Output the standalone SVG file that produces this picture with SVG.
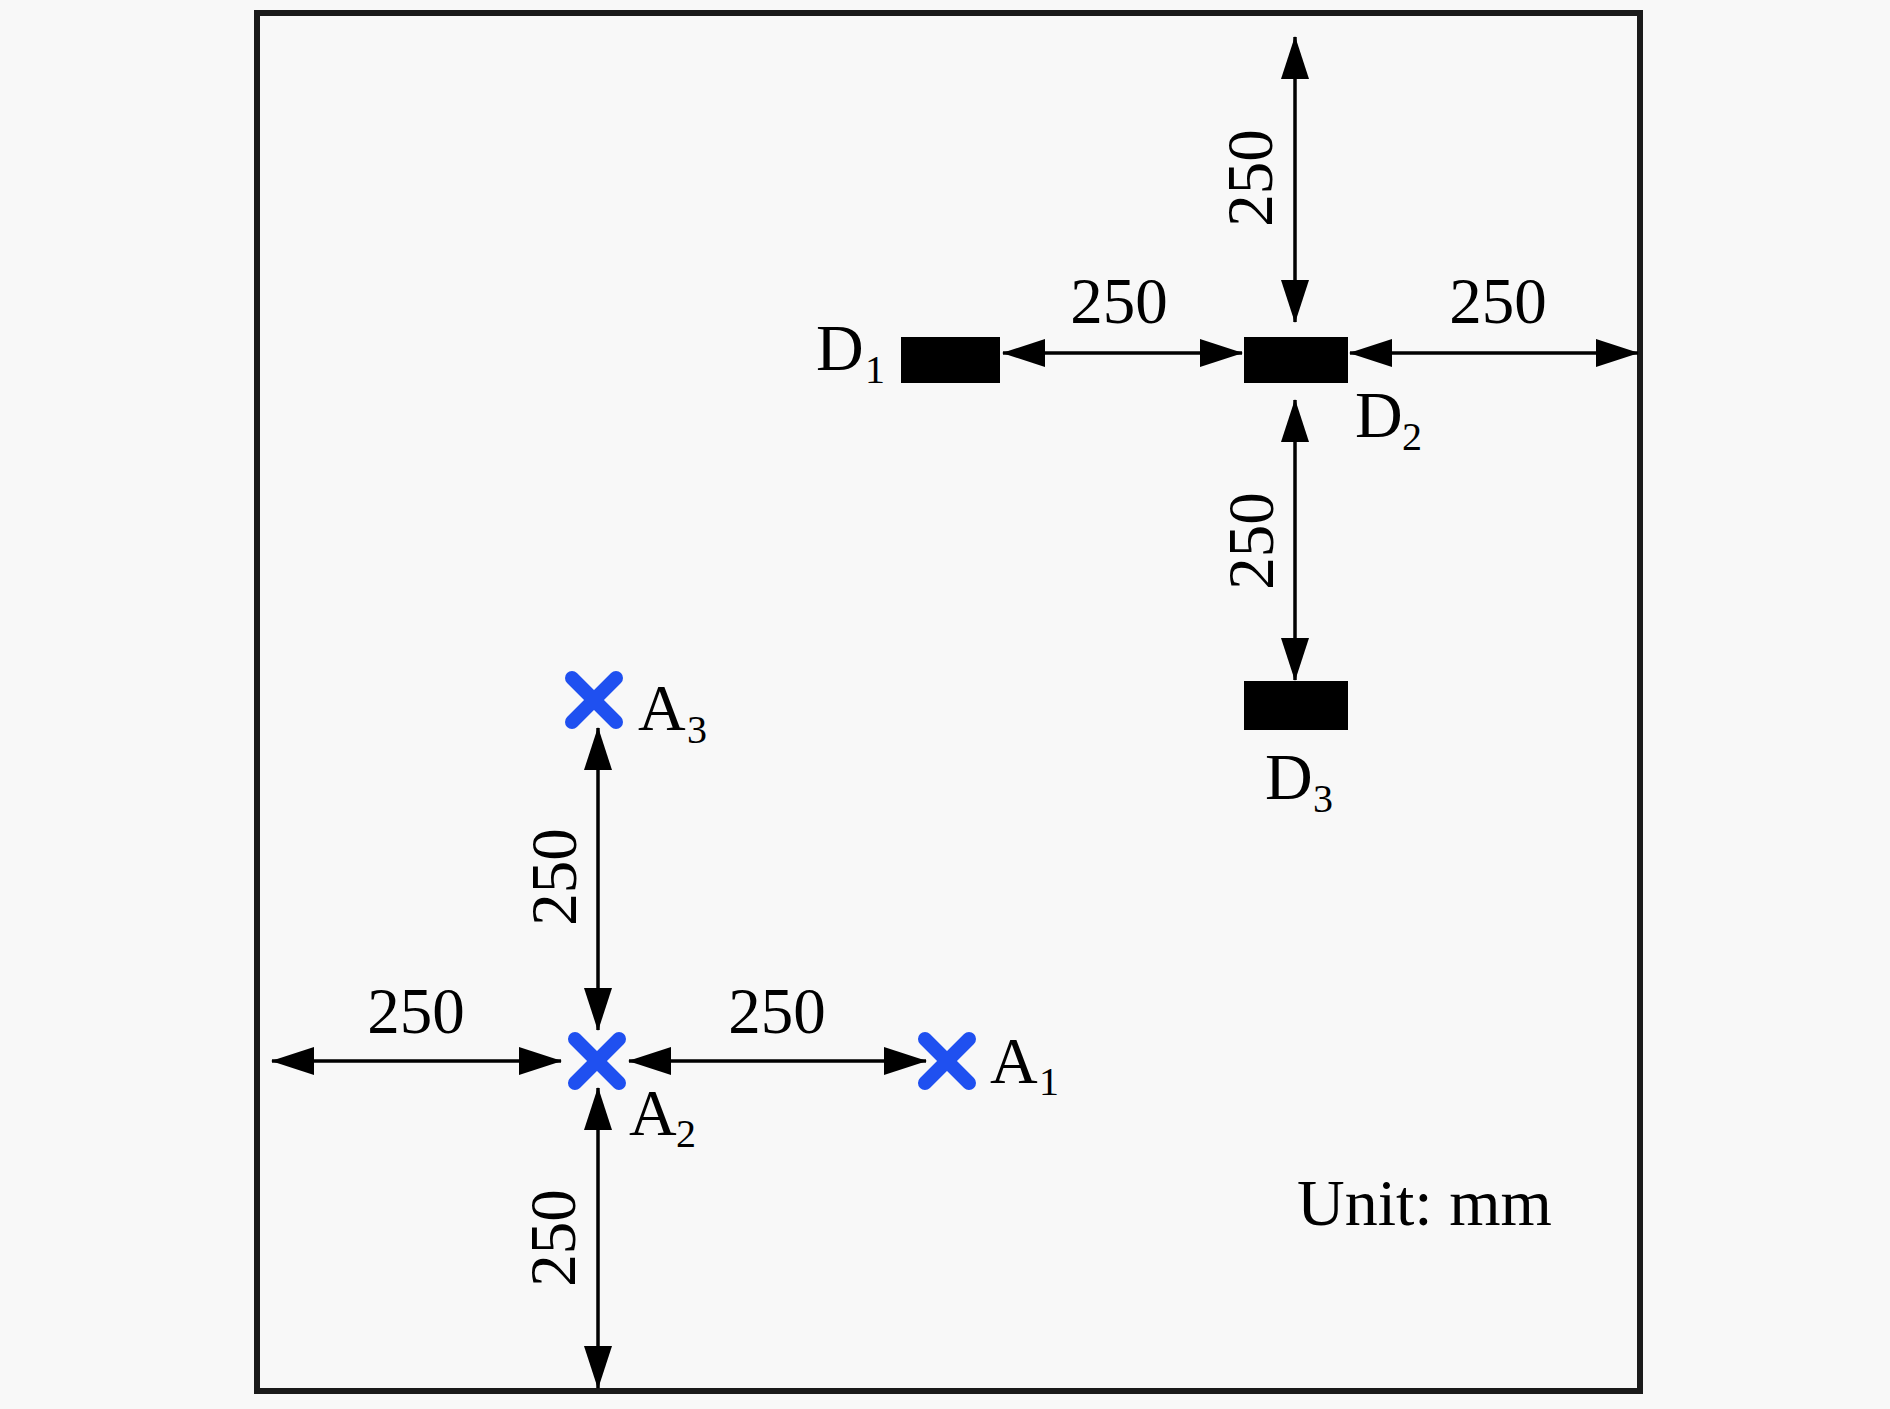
<svg xmlns="http://www.w3.org/2000/svg" width="1890" height="1409" viewBox="0 0 1890 1409">
  <defs>
    <style>
      .t { font-family: "Liberation Serif", "Times New Roman", serif; fill: #000; }
      .num { font-size: 65px; text-anchor: middle; }
      .lbl { font-size: 66px; }
      .sub { font-size: 40px; }
      .dim { stroke: #000; stroke-width: 3.5; fill: none; marker-start: url(#ah); marker-end: url(#ah); }
      .box { fill: #000; }
      .cross { stroke: #1f50f0; stroke-width: 14; stroke-linecap: round; }
    </style>
    <marker id="ah" viewBox="0 0 43 28" refX="42" refY="14" markerWidth="43" markerHeight="28" markerUnits="userSpaceOnUse" orient="auto-start-reverse">
      <path d="M0,0 L43,14 L0,28 z" fill="#000"/>
    </marker>
  </defs>
  <rect x="0" y="0" width="1890" height="1409" fill="#f8f8f8"/>
  <rect id="frame" x="257" y="13" width="1383" height="1378" fill="none" stroke="#1a1a1a" stroke-width="6"/>

  <g id="connectors">
    <line class="dim" x1="1003" y1="353" x2="1242" y2="353"/>
    <line class="dim" x1="1350" y1="353" x2="1638" y2="353"/>
    <line class="dim" x1="1295" y1="37" x2="1295" y2="322"/>
    <line class="dim" x1="1295" y1="400" x2="1295" y2="680"/>
    <line class="dim" x1="272" y1="1061" x2="561" y2="1061"/>
    <line class="dim" x1="629" y1="1061" x2="926" y2="1061"/>
    <line class="dim" x1="598" y1="728" x2="598" y2="1030"/>
    <line class="dim" x1="598" y1="1088" x2="598" y2="1388"/>
  </g>

  <g id="dim-labels">
    <text class="t num" x="1119" y="323">250</text>
    <text class="t num" x="1498" y="323">250</text>
    <text class="t num" transform="translate(1272,178) rotate(-90)">250</text>
    <text class="t num" transform="translate(1273,541) rotate(-90)">250</text>
    <text class="t num" x="416" y="1033">250</text>
    <text class="t num" x="777" y="1033">250</text>
    <text class="t num" transform="translate(576,877) rotate(-90)">250</text>
    <text class="t num" transform="translate(575,1238) rotate(-90)">250</text>
  </g>

  <g id="D1">
    <rect class="box" x="901" y="337" width="99" height="46"/>
    <text class="t lbl" x="816" y="370">D<tspan class="sub" x="865" y="383">1</tspan></text>
  </g>
  <g id="D2">
    <rect class="box" x="1244" y="337" width="104" height="46"/>
    <text class="t lbl" x="1355" y="437">D<tspan class="sub" x="1402" y="450">2</tspan></text>
  </g>
  <g id="D3">
    <rect class="box" x="1244" y="681" width="104" height="49"/>
    <text class="t lbl" x="1265" y="799">D<tspan class="sub" x="1313" y="812">3</tspan></text>
  </g>

  <g id="A1">
    <line class="cross" x1="925" y1="1039" x2="969" y2="1083"/>
    <line class="cross" x1="969" y1="1039" x2="925" y2="1083"/>
    <text class="t lbl" x="990" y="1083">A<tspan class="sub" x="1039" y="1095">1</tspan></text>
  </g>
  <g id="A2">
    <line class="cross" x1="575" y1="1039" x2="619" y2="1083"/>
    <line class="cross" x1="619" y1="1039" x2="575" y2="1083"/>
    <text class="t lbl" x="629" y="1135">A<tspan class="sub" x="676" y="1147">2</tspan></text>
  </g>
  <g id="A3">
    <line class="cross" x1="572" y1="678" x2="616" y2="722"/>
    <line class="cross" x1="616" y1="678" x2="572" y2="722"/>
    <text class="t lbl" x="638" y="730">A<tspan class="sub" x="687" y="743">3</tspan></text>
  </g>

  <g id="unit">
    <text class="t lbl" x="1297" y="1225">Unit: mm</text>
  </g>
</svg>
